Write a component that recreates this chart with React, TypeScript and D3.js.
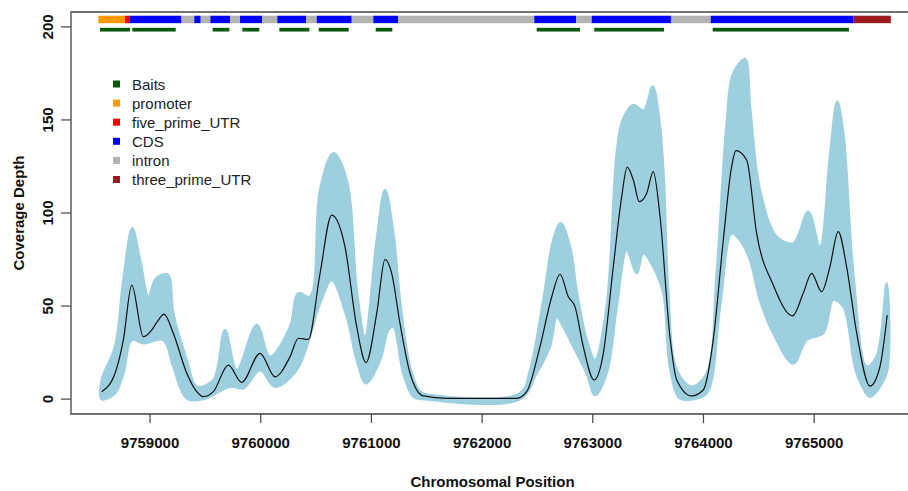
import React from 'react';
import * as d3 from 'd3';

const W = 908;
const H = 491;

// gene features [start, end, type]
const features: [number, number, string][] = [
  [9758533, 9758774, 'promoter'],
  [9758774, 9758819, 'five_prime_UTR'],
  [9758819, 9759280, 'CDS'],
  [9759280, 9759400, 'intron'],
  [9759400, 9759458, 'CDS'],
  [9759458, 9759545, 'intron'],
  [9759545, 9759723, 'CDS'],
  [9759723, 9759813, 'intron'],
  [9759813, 9760014, 'CDS'],
  [9760014, 9760150, 'intron'],
  [9760150, 9760409, 'CDS'],
  [9760409, 9760506, 'intron'],
  [9760506, 9760822, 'CDS'],
  [9760822, 9761017, 'intron'],
  [9761017, 9761240, 'CDS'],
  [9761240, 9762471, 'intron'],
  [9762471, 9762848, 'CDS'],
  [9762848, 9762990, 'intron'],
  [9762990, 9763706, 'CDS'],
  [9763706, 9764065, 'intron'],
  [9764065, 9765353, 'CDS'],
  [9765353, 9765693, 'three_prime_UTR'],
];

const baits: [number, number][] = [
  [9758548, 9758819],
  [9758840, 9759232],
  [9759566, 9759716],
  [9759834, 9759987],
  [9760168, 9760439],
  [9760524, 9760795],
  [9761039, 9761189],
  [9762493, 9762884],
  [9763013, 9763643],
  [9764083, 9765314],
];

const legendLabels = ['Baits', 'promoter', 'five_prime_UTR', 'CDS', 'intron', 'three_prime_UTR'];
const legendColors = ['#0b5a0b', '#ff9900', '#ff0000', '#0000ff', '#b3b3b3', '#981c20'];

const xTicks = [9759000, 9760000, 9761000, 9762000, 9763000, 9764000, 9765000];
const yTicks = [0, 50, 100, 150, 200];

// mean coverage [position, depth]
const meanCov: [number, number][] = [
  [9758564, 4.0], [9758684, 13.9], [9758759, 31.8], [9758835, 61.3], [9758939, 33.5],
  [9759015, 37.1], [9759075, 42.5], [9759126, 45.7], [9759210, 35.4], [9759332, 13.9],
  [9759422, 4.0], [9759481, 1.3], [9759572, 4.0], [9759707, 18.3], [9759828, 9.0],
  [9759994, 24.6], [9760129, 12.0], [9760265, 22.8], [9760340, 32.7], [9760430, 32.1],
  [9760536, 67.6], [9760641, 98.9], [9760761, 81.9], [9760867, 38.9], [9760951, 19.6],
  [9761048, 46.1], [9761123, 75.1], [9761183, 67.6], [9761258, 40.7], [9761349, 13.9],
  [9761469, 1.7], [9761680, 0.4], [9762312, 0.4], [9762403, 4.0], [9762523, 28.2],
  [9762629, 55.0], [9762704, 67.1], [9762779, 55.0], [9762839, 49.7], [9762914, 28.2],
  [9763011, 10.3], [9763095, 24.6], [9763185, 71.1], [9763261, 108.8], [9763311, 124.6],
  [9763366, 117.7], [9763420, 106.1], [9763487, 110.6], [9763546, 122.2], [9763607, 98.4],
  [9763697, 33.5], [9763758, 10.3], [9763893, 1.7], [9763998, 4.9], [9764088, 31.8],
  [9764179, 85.5], [9764254, 124.9], [9764293, 133.5], [9764390, 128.5], [9764480, 89.1],
  [9764630, 61.3], [9764805, 44.7], [9764901, 56.9], [9764977, 67.6], [9765067, 57.7],
  [9765142, 71.1], [9765217, 90.0], [9765293, 71.1], [9765384, 35.4], [9765504, 7.0],
  [9765594, 17.4], [9765660, 45.2],
];

// upper edge of per-sample coverage
const maxCov: [number, number][] = [
  [9758564, 10.3], [9758684, 28.2], [9758759, 64.0], [9758840, 91.8], [9758910, 74.7],
  [9758985, 55.0], [9759045, 64.0], [9759106, 66.7], [9759165, 66.7], [9759210, 46.1],
  [9759332, 21.0], [9759422, 6.7], [9759572, 10.3], [9759677, 37.1], [9759783, 15.6],
  [9759964, 39.8], [9760084, 22.8], [9760265, 38.9], [9760340, 56.9], [9760445, 55.0],
  [9760536, 112.4], [9760656, 132.1], [9760777, 117.7], [9760867, 58.6], [9760942, 33.5],
  [9761048, 85.5], [9761123, 112.4], [9761198, 89.1], [9761258, 53.3], [9761349, 17.4],
  [9761439, 4.0], [9761529, 2.2], [9762342, 3.1], [9762433, 15.6], [9762553, 53.3],
  [9762643, 85.5], [9762710, 94.5], [9762794, 81.9], [9762854, 58.6], [9762945, 31.8],
  [9763020, 21.0], [9763125, 49.7], [9763216, 132.1], [9763270, 150], [9763366, 158],
  [9763460, 155], [9763540, 168], [9763600, 150], [9763640, 120], [9763681, 58.6],
  [9763758, 15.6], [9763893, 6.7], [9764029, 13.9], [9764119, 67.6], [9764209, 148.2],
  [9764269, 175.1], [9764375, 182.6], [9764420, 157.1], [9764510, 112.4], [9764661, 87.3],
  [9764811, 83.7], [9764946, 100.7], [9765052, 81.9], [9765142, 130.3], [9765208, 159.8],
  [9765263, 142.8], [9765353, 67.6], [9765474, 17.4], [9765564, 22.8], [9765655, 62.2],
];

// lower edge of per-sample coverage
const minCov: [number, number][] = [
  [9758564, 0], [9758684, 3.1], [9758759, 13.9], [9758835, 31.8], [9758939, 30.0],
  [9759120, 31.8], [9759210, 17.4], [9759332, 0.4], [9759481, 0], [9759723, 6.7],
  [9759843, 5.8], [9759994, 15.6], [9760129, 6.7], [9760325, 15.6], [9760536, 51.5],
  [9760641, 64.0], [9760777, 44.3], [9760867, 21.0], [9760951, 8.5], [9761078, 21.0],
  [9761153, 37.1], [9761198, 38.9], [9761288, 13.9], [9761378, 1.3], [9761469, 0],
  [9762342, 0], [9762493, 13.9], [9762613, 28.2], [9762674, 44.3], [9762733, 38.9],
  [9762824, 28.2], [9762945, 13.9], [9763020, 2.2], [9763125, 13.9], [9763216, 49.7],
  [9763306, 80.1], [9763396, 67.6], [9763456, 78.3], [9763546, 71.1], [9763637, 56.9],
  [9763697, 17.4], [9763787, 0.4], [9763908, 0], [9764029, 3.1], [9764149, 49.7],
  [9764254, 89.1], [9764329, 85.5], [9764420, 74.7], [9764510, 53.3], [9764630, 35.4],
  [9764811, 19.2], [9764932, 31.8], [9765082, 35.4], [9765172, 53.3], [9765263, 49.7],
  [9765384, 13.9], [9765504, 1.3], [9765594, 6.7], [9765660, 15.6],
];

const featureColor: Record<string, string> = {
  promoter: '#ff9900',
  five_prime_UTR: '#ff0000',
  CDS: '#0000ff',
  intron: '#b3b3b3',
  three_prime_UTR: '#981c20',
};

export default function App() {
  const left = 71, right = 922, top = 12, bottom = 414;

  const x = d3.scaleLinear().domain([9758286, 9765974]).range([left, right]);
  const y = d3.scaleLinear().domain([-8, 208]).range([bottom, top]);

  // smooth band outline (upper edge forward, lower edge back)
  const bandLine = d3.line<[number, number]>()
    .x(d => x(d[0]))
    .y(d => y(d[1]))
    .curve(d3.curveCatmullRomClosed.alpha(0.5));
  const bandPath = bandLine([...maxCov, ...minCov.slice().reverse()]) || '';

  const meanLine = d3.line<[number, number]>()
    .x(d => x(d[0]))
    .y(d => y(d[1]))
    .curve(d3.curveMonotoneX);

  const font = 'Liberation Sans, Arial, sans-serif';

  return (
    <svg width={W} height={H} style={{ position: 'absolute', left: 0, top: 0, background: '#fff' }}>
      {/* coverage band */}
      <path d={bandPath} fill="#9ecfdf" stroke="#9ecfdf" strokeWidth={2.5} strokeLinejoin="round" />
      <path d={meanLine(meanCov) || ''} fill="none" stroke="#111" strokeWidth={1.2} />

      {/* gene structure */}
      {features.map((f, i) => (
        <rect key={'f' + i} x={x(f[0])} y={y(206)} width={x(f[1]) - x(f[0])} height={y(202) - y(206)}
          fill={featureColor[f[2]]} />
      ))}
      {baits.map((b, i) => (
        <rect key={'b' + i} x={x(b[0])} y={y(199.5)} width={x(b[1]) - x(b[0])} height={y(197.5) - y(199.5)}
          fill="#0b5a0b" />
      ))}

      {/* legend */}
      {legendLabels.map((l, i) => (
        <g key={l} transform={`translate(113, ${84 + i * 19.1})`}>
          <rect x={0} y={-3.5} width={7} height={7} fill={legendColors[i]} />
          <text x={19} y={5.5} fontFamily={font} fontSize={15} fill="#222">{l}</text>
        </g>
      ))}

      {/* box */}
      <path d={`M${right},${top}H${left}V${bottom}H${right}`} fill="none" stroke="#444" strokeWidth={1.3} />

      {/* x axis */}
      {xTicks.map(t => (
        <g key={t} transform={`translate(${x(t)},${bottom})`}>
          <line y1={0} y2={9} stroke="#444" strokeWidth={1.2} />
          <text y={34} textAnchor="middle" fontFamily={font} fontSize={15} fontWeight="bold" fill="#111">{t}</text>
        </g>
      ))}
      <text x={(left + right) / 2 - 4} y={487} textAnchor="middle" fontFamily={font} fontSize={15}
        fontWeight="bold" fill="#111">Chromosomal Position</text>

      {/* y axis */}
      {yTicks.map(t => (
        <g key={t} transform={`translate(${left},${y(t)})`}>
          <line x1={0} x2={-10} stroke="#444" strokeWidth={1.2} />
          <text transform="translate(-18,0) rotate(-90)" textAnchor="middle" fontFamily={font} fontSize={15}
            fontWeight="bold" fill="#111">{t}</text>
        </g>
      ))}
      <text transform={`translate(24,${(top + bottom) / 2}) rotate(-90)`} textAnchor="middle" fontFamily={font}
        fontSize={15} fontWeight="bold" fill="#111">Coverage Depth</text>
    </svg>
  );
}
